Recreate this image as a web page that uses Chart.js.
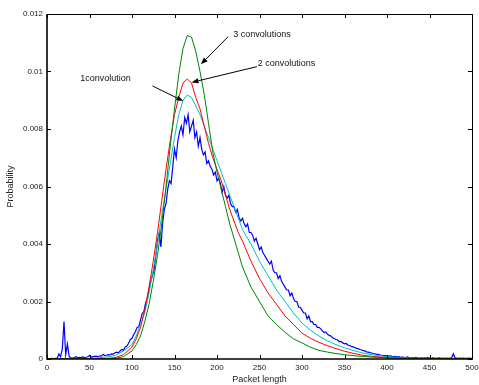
<!DOCTYPE html>
<html>
<head>
<meta charset="utf-8">
<script src="https://cdn.jsdelivr.net/npm/chart.js"></script>
<style>
  body { margin: 0; background: #fff; }
</style>
</head>
<body>
<canvas id="myChart" width="479" height="385"></canvas>
<script>
// x grid shared by the three model curves
const modelX = [0, 50, 60, 70, 80, 90,
  100, 105, 110, 115, 120, 125, 130, 135, 140, 145, 150, 155, 160, 165, 170, 175,
  180, 185, 190, 195, 200, 205, 210, 215, 220, 225, 230,
  240, 250, 260, 270, 280, 290, 300, 310, 320, 330, 340, 350, 360, 370, 380,
  400, 420, 450, 500];

const threeConv = [0, 0, 0, 0.00001, 0.00002, 0.00008,
  0.00028, 0.0005, 0.0008, 0.0013, 0.0019, 0.0027, 0.0036, 0.0047, 0.0060, 0.0074, 0.0087, 0.0099, 0.0108, 0.01125, 0.0112, 0.0107,
  0.0100, 0.0092, 0.0082, 0.0072, 0.0065, 0.0059, 0.0053, 0.0047, 0.0042, 0.0037, 0.0032,
  0.0025, 0.0020, 0.0015, 0.0012, 0.00093, 0.0007, 0.00056, 0.00041, 0.0003, 0.00024, 0.00019, 0.00015, 0.00012, 0.00009, 0.00007,
  0.00004, 0.00002, 0.00001, 0];

const twoConv = [0, 0, 0.00001, 0.00002, 0.00005, 0.00015,
  0.00042, 0.0007, 0.0011, 0.0017, 0.0025, 0.0034, 0.0044, 0.0055, 0.0066, 0.0076, 0.0085, 0.0091, 0.0096, 0.00974, 0.0096, 0.0091,
  0.0087, 0.0081, 0.0075, 0.0070, 0.0066, 0.0062, 0.0057, 0.0052, 0.0048, 0.0044, 0.0041,
  0.0034, 0.0028, 0.0023, 0.0019, 0.0015, 0.0012, 0.0009, 0.00072, 0.00058, 0.00046, 0.00036, 0.00027, 0.0002, 0.00014, 0.0001,
  0.00005, 0.00003, 0.00001, 0];

const oneConv = [0, 0.00002, 0.00004, 0.00007, 0.00012, 0.00028,
  0.0005, 0.0008, 0.0012, 0.0016, 0.0023, 0.0031, 0.0040, 0.0050, 0.0059, 0.0068, 0.0077, 0.0085, 0.0090, 0.00918, 0.0091, 0.0088,
  0.0085, 0.0081, 0.0077, 0.0073, 0.0069, 0.0065, 0.0061, 0.0057, 0.0053, 0.0049, 0.0045,
  0.0040, 0.0034, 0.0029, 0.0024, 0.0020, 0.0016, 0.00125, 0.001, 0.0008, 0.00063, 0.0005, 0.00039, 0.0003, 0.00022, 0.00016,
  0.00008, 0.00004, 0.00002, 0];

// measured histogram, one value every 2 bytes from 0 to 500
const measured = [
  0, 0.00001, 0.00001, 0.00002, 0.00001, 0.00002, 0.00003, 0.00018, 0.00008, 0.00035,
  0.0013, 0.00015, 0.00052, 0.0001, 0.00004, 0.00003, 0.00005, 0.00008, 0.00004, 0.00006,
  0.00005, 0.00007, 0.00005, 0.00006, 0.00008, 0.00012, 0.00006, 0.00008, 0.00009, 0.0001,
  0.00008, 0.00011, 0.0001, 0.00016, 0.00012, 0.00013, 0.00015, 0.00014, 0.00018, 0.00017,
  0.00022, 0.00024, 0.00021, 0.00028, 0.00033, 0.0003, 0.00042, 0.00045, 0.00055, 0.00068,
  0.00072, 0.00085, 0.00095, 0.0011, 0.00112, 0.00135, 0.00158, 0.00165, 0.00195, 0.0021,
  0.0024, 0.0027, 0.0029, 0.0031, 0.0036, 0.0041, 0.0044, 0.0039, 0.0047, 0.0052,
  0.0054, 0.0059, 0.0062, 0.0061, 0.0067, 0.0073, 0.0070, 0.0076, 0.0079, 0.0081,
  0.0078, 0.0084, 0.0082, 0.0085, 0.0079, 0.0081, 0.0083, 0.0077, 0.0079, 0.0074,
  0.0077, 0.0073, 0.0071, 0.0072, 0.0068, 0.0069, 0.0067, 0.0066, 0.0064, 0.0065,
  0.0062, 0.0063, 0.0061, 0.0058, 0.0060, 0.0057, 0.0056, 0.0057, 0.0054, 0.0053,
  0.0053, 0.0051, 0.0052, 0.0049, 0.0048, 0.0049, 0.0047, 0.0046, 0.0047, 0.0044,
  0.0044, 0.0043, 0.0041, 0.0042, 0.0040, 0.0038, 0.0039, 0.0037, 0.0036, 0.0035,
  0.0034, 0.0033, 0.0034, 0.0031, 0.0030, 0.0030, 0.0028, 0.0029, 0.0027, 0.0026,
  0.0025, 0.0024, 0.0024, 0.0022, 0.0023, 0.0021, 0.0020, 0.0020, 0.0018, 0.0018,
  0.0017, 0.0016, 0.0016, 0.0014, 0.0015, 0.0013, 0.0013, 0.0012, 0.0012, 0.0011,
  0.0011, 0.00105, 0.00098, 0.00092, 0.00094, 0.00086, 0.00082, 0.0008, 0.00074, 0.00071,
  0.00068, 0.00066, 0.0006, 0.00061, 0.00056, 0.00053, 0.00054, 0.00048, 0.00047, 0.00044,
  0.00042, 0.0004, 0.00037, 0.00036, 0.00033, 0.00032, 0.00029, 0.00028, 0.00025, 0.00024,
  0.00022, 0.00021, 0.00019, 0.00018, 0.00016, 0.00016, 0.00014, 0.00013, 0.00012, 0.00012,
  0.00011, 0.0001, 0.00011, 0.00009, 0.00008, 0.00009, 0.00007, 0.00008, 0.00006, 0.00007,
  0.00006, 0.00005, 0.00007, 0.00005, 0.00004, 0.00005, 0.00004, 0.00006, 0.00004, 0.00003,
  0.00004, 0.00003, 0.00004, 0.00003, 0.00005, 0.00003, 0.00002, 0.00004, 0.00003, 0.00002,
  0.00003, 0.00004, 0.00002, 0.00003, 0.00002, 0.00003, 0.00002, 0.00003, 0.00004, 0.00018,
  0.00004, 0.00003, 0.00002, 0.00003, 0.00002, 0.00003, 0.00002, 0.00002, 0.00003, 0.00002,
  0.00002];
const measuredX = measured.map((v, i) => i * 2);

const yTickLabels = ['0', '0.002', '0.004', '0.006', '0.008', '0.01', '0.012'];

// annotations, in data units
const noteText = ['3 convolutions', '2 convolutions', '1convolution'];
const noteX = [219, 248, 39];
const noteY = [0.0113, 0.01028, 0.00974];
const arrowFromX = [213, 247, 124];
const arrowFromY = [0.01121, 0.01017, 0.0095];
const arrowToX = [181, 170, 160.4];
const arrowToY = [0.01025, 0.00962, 0.00897];

const FONT = "'Liberation Sans', Arial, Helvetica, sans-serif";
Chart.defaults.font.family = FONT;

function pts(xs, ys) {
  return xs.map((x, i) => ({ x: x, y: ys[i] }));
}

// matlab style box with inward ticks + arrows with labels
const boxAndNotes = {
  id: 'boxAndNotes',
  afterDraw(chart) {
    const ctx = chart.ctx;
    const a = chart.chartArea;
    const xs = chart.scales.x, ys = chart.scales.y;
    ctx.save();
    ctx.strokeStyle = '#000';
    ctx.lineWidth = 1;
    xs.ticks.forEach(t => {
      const px = Math.round(xs.getPixelForValue(t.value)) + 0.5;
      ctx.beginPath();
      ctx.moveTo(px, a.bottom); ctx.lineTo(px, a.bottom - 4);
      ctx.moveTo(px, a.top); ctx.lineTo(px, a.top + 4);
      ctx.stroke();
    });
    ys.ticks.forEach(t => {
      const py = Math.round(ys.getPixelForValue(t.value)) + 0.5;
      ctx.beginPath();
      ctx.moveTo(a.left, py); ctx.lineTo(a.left + 4, py);
      ctx.moveTo(a.right, py); ctx.lineTo(a.right - 4, py);
      ctx.stroke();
    });
    ctx.beginPath();
    ctx.moveTo(a.left, a.top + 0.5); ctx.lineTo(a.right + 0.5, a.top + 0.5);
    ctx.lineTo(a.right + 0.5, a.bottom);
    ctx.stroke();
    ctx.lineWidth = 1.6;
    ctx.beginPath();
    ctx.moveTo(a.left, a.top); ctx.lineTo(a.left, a.bottom); ctx.lineTo(a.right + 1, a.bottom);
    ctx.stroke();

    ctx.fillStyle = '#111';
    ctx.font = '9px ' + FONT;
    ctx.textBaseline = 'middle';
    ctx.textAlign = 'left';
    noteText.forEach((s, i) => {
      ctx.fillText(s, xs.getPixelForValue(noteX[i]), ys.getPixelForValue(noteY[i]));
      const x0 = xs.getPixelForValue(arrowFromX[i]), y0 = ys.getPixelForValue(arrowFromY[i]);
      const x1 = xs.getPixelForValue(arrowToX[i]), y1 = ys.getPixelForValue(arrowToY[i]);
      const ang = Math.atan2(y1 - y0, x1 - x0);
      const len = 7, hw = 2.6;
      const bx = x1 - len * Math.cos(ang), by = y1 - len * Math.sin(ang);
      ctx.lineWidth = 1;
      ctx.strokeStyle = '#000';
      ctx.beginPath();
      ctx.moveTo(x0, y0); ctx.lineTo(bx, by);
      ctx.stroke();
      ctx.fillStyle = '#000';
      ctx.beginPath();
      ctx.moveTo(x1, y1);
      ctx.lineTo(bx + hw * Math.sin(ang), by - hw * Math.cos(ang));
      ctx.lineTo(bx - hw * Math.sin(ang), by + hw * Math.cos(ang));
      ctx.closePath();
      ctx.fill();
      ctx.fillStyle = '#111';
    });
    ctx.restore();
  }
};

const ctx = document.getElementById('myChart');
new Chart(ctx, {
  type: 'line',
  data: {
    datasets: [
      { label: '3 convolutions', data: pts(modelX, threeConv), borderColor: '#008000', borderWidth: 1 },
      { label: '2 convolutions', data: pts(modelX, twoConv), borderColor: '#ff0000', borderWidth: 1 },
      { label: '1 convolution', data: pts(modelX, oneConv), borderColor: '#00bfbf', borderWidth: 1 },
      { label: 'measured', data: pts(measuredX, measured), borderColor: '#0000ff', borderWidth: 1.2 }
    ]
  },
  options: {
    responsive: false,
    animation: false,
    elements: { point: { radius: 0 }, line: { tension: 0, fill: false } },
    layout: { padding: { top: 14, right: 7, left: 0, bottom: 0 } },
    plugins: { legend: { display: false }, tooltip: { enabled: false } },
    scales: {
      x: {
        type: 'linear', min: 0, max: 500,
        grid: { display: false, drawTicks: false },
        border: { display: false },
        ticks: { stepSize: 50, autoSkip: false, maxRotation: 0, padding: 4, color: '#222', font: { size: 8 } },
        title: { display: true, text: 'Packet length', color: '#222', font: { size: 9 }, padding: 0 },
        afterFit: s => { s.height = 26; s.paddingLeft = 0; s.paddingRight = 0; }
      },
      y: {
        type: 'linear', min: 0, max: 0.012,
        grid: { display: false, drawTicks: false },
        border: { display: false },
        ticks: { stepSize: 0.002, padding: 4, color: '#222', font: { size: 8 },
          callback: (v, i) => yTickLabels[i] },
        title: { display: true, text: 'Probability', color: '#222', font: { size: 9 }, padding: { top: 5 } },
        afterFit: s => { s.width = 47; s.paddingTop = 0; s.paddingBottom = 0; }
      }
    }
  },
  plugins: [boxAndNotes]
});
</script>
</body>
</html>
